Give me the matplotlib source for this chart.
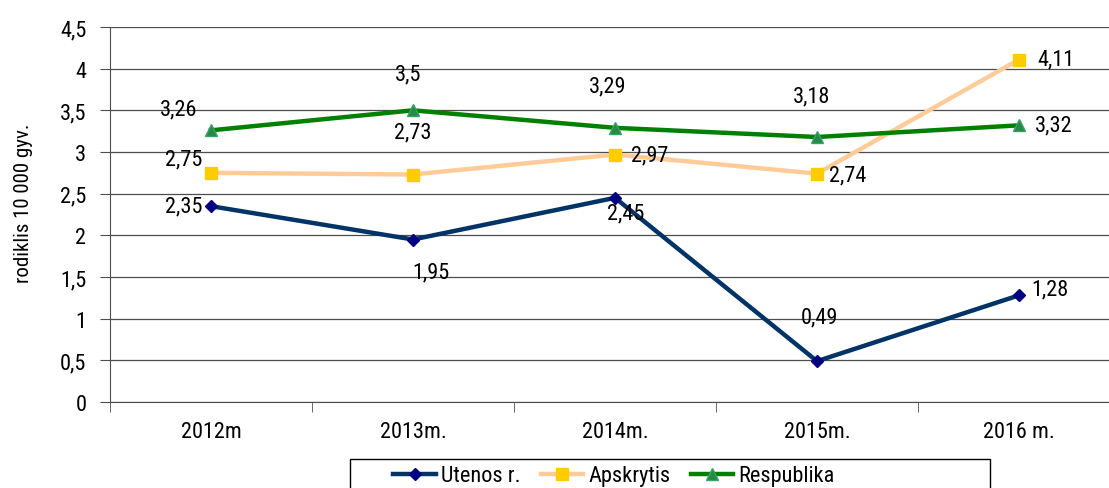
import matplotlib.pyplot as plt
from matplotlib.patches import Rectangle
import numpy as np

plt.rcParams['font.family'] = ['Roboto Condensed', 'DejaVu Sans']
plt.rcParams['font.stretch'] = 'condensed'

years = ['2012m', '2013m.', '2014m.', '2015m.', '2016 m.']
utenos = [2.35, 1.95, 2.45, 0.49, 1.28]
apskritis = [2.75, 2.73, 2.97, 2.74, 4.11]
respublika = [3.26, 3.5, 3.29, 3.18, 3.32]

# label offsets in pixels (dx, dy, ha) for each point
off_ut = [(-8, 0, 'right'), (18, -32, 'center'), (11, -15, 'center'), (2, 44, 'center'), (12, 6, 'left')]
off_ap = [(-27, 14, 'center'), (0, 43, 'center'), (16, 0, 'left'), (12, -1, 'left'), (18, 1, 'left')]
off_re = [(-32, 21, 'center'), (-5, 36, 'center'), (-7, 42, 'center'), (-5, 41, 'center'), (16, 0, 'left')]

fs = 16
fig = plt.figure(figsize=(11.09, 4.89), dpi=100)
ax = fig.add_axes([110/1109, 1-403/489, 1010/1109, 375/489])
x = np.arange(len(years))

ax.plot(x, utenos, color='#003366', lw=3.2, marker='D', ms=6, mfc='#000080', mec='#000080', label='Utenos r.', zorder=3)
ax.plot(x, apskritis, color='#FFCC99', lw=3.2, marker='s', ms=8.5, mfc='#FFCC00', mec='#FFCC00', label='Apskrytis', zorder=3)
ax.plot(x, respublika, color='#008000', lw=3.2, marker='^', ms=8.5, mfc='#238B45', mec='#3C9F6A', label='Respublika', zorder=3)

for vals, offs in [(utenos, off_ut), (apskritis, off_ap), (respublika, off_re)]:
    for xi, v, (dx, dy, ha) in zip(x, vals, offs):
        ax.annotate(f'{v:g}'.replace('.', ','), (xi, v), xytext=(dx*0.72, dy*0.72),
                    textcoords='offset points', ha=ha, va='center', fontsize=fs, zorder=4)

ax.set_xlim(-0.5, 4.5)
ax.set_ylim(0, 4.5)
yt = np.arange(0, 4.51, 0.5)
ax.set_yticks(yt)
ax.set_yticklabels([f'{v:g}'.replace('.', ',') for v in yt], fontsize=fs)
ax.yaxis.grid(True, color='#4d4d4d', lw=0.9)
ax.set_axisbelow(True)
ax.set_xticks(x)
ax.set_xticklabels(years, fontsize=fs)
ax.set_xticks(np.arange(-0.5, 4.6, 1), minor=True)
ax.tick_params(axis='x', which='major', length=0, pad=14)
ax.tick_params(axis='x', which='minor', length=7, direction='out', color='#4d4d4d')
ax.tick_params(axis='y', length=7, direction='out', color='#4d4d4d', pad=10)
for s in ['top', 'right']:
    ax.spines[s].set_visible(False)
ax.spines['left'].set_color('#4d4d4d')
ax.spines['bottom'].set_color('#4d4d4d')
ax.set_ylabel('rodiklis 10 000 gyv.', fontsize=15)
ax.yaxis.set_label_coords(-77/1010, (403-203)/375)

leg = fig.legend(loc='upper center', bbox_to_anchor=(614/1109, 1-462/489),
                 ncol=3, fontsize=fs, frameon=False, handlelength=1.9,
                 borderpad=0.2, handletextpad=0.25, columnspacing=0.9, borderaxespad=0)
fig.add_artist(Rectangle((350/1109, -0.05), 640/1109, 0.05 + (489-460)/489,
                         transform=fig.transFigure, fill=False, edgecolor='black', lw=1.0))

fig.savefig('out.png', dpi=100)
